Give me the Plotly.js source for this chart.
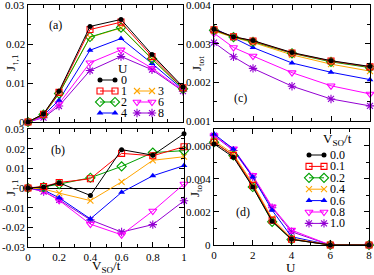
<!DOCTYPE html>
<html>
<head>
<meta charset="utf-8">
<script src="https://cdn.plot.ly/plotly-3.0.1.min.js"></script>
<style>html,body{margin:0;padding:0;background:#fff;}#plot{width:374px;height:275px;}</style>
</head>
<body>
<div id="plot"></div>
<script>
// ---------- data ----------
var vso = [0, 0.1, 0.2, 0.4, 0.6, 0.8, 1.0];
var uLabels = ['0', '1', '2', '3', '4', '6', '8'];

// panel (a): J_{up,1} vs V_SO/t, one series per U
var jA_U0 = [0, 0.0021, 0.0079, 0.0245, 0.0263, 0.0173, 0.0090];
var jA_U1 = [0, 0.0020, 0.0076, 0.0237, 0.0256, 0.0168, 0.0088];
var jA_U2 = [0, 0.0019, 0.0073, 0.0218, 0.0242, 0.0162, 0.0085];
var jA_U3 = [0, 0.0019, 0.0073, 0.0217, 0.0241, 0.0161, 0.0085];
var jA_U4 = [0, 0.0017, 0.0056, 0.0184, 0.0214, 0.0150, 0.0083];
var jA_U6 = [0, 0.0013, 0.0047, 0.0152, 0.0185, 0.0138, 0.0081];
var jA_U8 = [0, 0.0011, 0.0041, 0.0132, 0.0168, 0.0134, 0.0079];

// panel (b)
var jB_U0 = [0, 0.0005, 0.0026, -0.0038, 0.0195, 0.0167, 0.0276];
var jB_U1 = [0, 0.0008, 0.0028, 0.0047, 0.0176, 0.0164, 0.0210];
var jB_U2 = [0, 0.0005, 0.0020, 0.0052, 0.0110, 0.0180, 0.0190];
var jB_U3 = [0, -0.0005, -0.0026, -0.0064, 0.0031, 0.0141, 0.0159];
var jB_U4 = [0, -0.0010, -0.0050, -0.0157, -0.0022, 0.0062, 0.0114];
var jB_U6 = [0, -0.0015, -0.0063, -0.0184, -0.0238, -0.0117, 0.0020];
var jB_U8 = [0, -0.0018, -0.0060, -0.0162, -0.0224, -0.0186, -0.0065];

// panel (c): J_tot vs U, one series per V_SO/t
var uC = [0, 1, 2, 4, 6, 8];
var vsoLabels = ['0.0', '0.1', '0.2', '0.4', '0.6', '0.8', '1.0'];
var jC_V00 = [0.00337, 0.00318, 0.00308, 0.00277, 0.00256, 0.00241];
var jC_V01 = [0.00336, 0.00318, 0.00307, 0.00276, 0.00255, 0.00240];
var jC_V02 = [0.00335, 0.00317, 0.00305, 0.00275, 0.00253, 0.00238];
var jC_V04 = [0.00333, 0.00316, 0.00303, 0.00271, 0.00247, 0.00229];
var jC_V06 = [0.00340, 0.00314, 0.00290, 0.00250, 0.00226, 0.00207];
var jC_V08 = [0.00327, 0.00290, 0.00268, 0.00225, 0.00191, 0.00170];
var jC_V10 = [0.00303, 0.00266, 0.00236, 0.00190, 0.00157, 0.00139];

// panel (d)
var uD = [0, 1, 2, 3, 4, 6, 8];
var jD_V00 = [0.0061, 0.0053, 0.0035, 0.00144, 0.00034, 0, 0];
var jD_V01 = [0.0062, 0.0054, 0.0036, 0.0015, 0.00035, 0, 0];
var jD_V02 = [0.0062, 0.0054, 0.0035, 0.0014, 0.00033, 0, 0];
var jD_V04 = [0.0063, 0.0055, 0.0037, 0.0016, 0.0004, 0, 0];
var jD_V06 = [0.0067, 0.0058, 0.0041, 0.0021, 0.0005, 0, 0];
var jD_V08 = [0.0066, 0.0058, 0.0042, 0.0023, 0.0009, 0, 0];
var jD_V10 = [0.0066, 0.0057, 0.0041, 0.00225, 0.0008, 0, 0];

// y tick labels
var yTicksA = [0, 0.01, 0.02, 0.03];
var yTickTextA = ['0', '0.01', '0.02', '0.03'];
var yTicksB = [-0.03, -0.02, -0.01, 0, 0.01, 0.02, 0.03];
var yTickTextB = ['-0.03', '-0.02', '-0.01', '0', '0.01', '0.02', '0.03'];
var yTicksC = [0.001, 0.002, 0.003, 0.004];
var yTickTextC = ['0.001', '0.002', '0.003', '0.004'];
var yTicksD = [0, 0.002, 0.004, 0.006];
var yTickTextD = ['0', '0.002', '0.004', '0.006'];

// ---------- styles ----------
var styles = [
  {color: '#000000', symbol: 'circle', size: 5},
  {color: '#ff0000', symbol: 'square-open', size: 6},
  {color: '#00a000', symbol: 'diamond-open', size: 7},
  {color: '#ffa500', symbol: 'x-thin-open', size: 6},
  {color: '#0000ff', symbol: 'triangle-up', size: 6},
  {color: '#ff00ff', symbol: 'triangle-down-open', size: 7},
  {color: '#9400d3', symbol: 'asterisk-open', size: 7}
];

var seriesA = [jA_U0, jA_U1, jA_U2, jA_U3, jA_U4, jA_U6, jA_U8];
var seriesB = [jB_U0, jB_U1, jB_U2, jB_U3, jB_U4, jB_U6, jB_U8];
var seriesC = [jC_V00, jC_V01, jC_V02, jC_V04, jC_V06, jC_V08, jC_V10];
var seriesD = [jD_V00, jD_V01, jD_V02, jD_V04, jD_V06, jD_V08, jD_V10];

function tr(x, y, i, xa, ya, name) {
  var s = styles[i];
  return {
    x: x, y: y, xaxis: xa, yaxis: ya, name: name,
    type: 'scatter', mode: 'lines+markers', showlegend: false,
    cliponaxis: false, hoverinfo: 'skip',
    line: {color: s.color, width: 1},
    marker: {symbol: s.symbol, size: s.size, color: s.color,
             line: {color: s.color, width: s.symbol.indexOf('open') >= 0 ? 1.1 : 0}}
  };
}

var traces = [];
for (var i = styles.length - 1; i >= 0; i--) {
  traces.push(tr(vso, seriesA[i], i, 'x', 'y', 'U=' + uLabels[i]));
  traces.push(tr(vso, seriesB[i], i, 'x2', 'y2', 'U=' + uLabels[i]));
  traces.push(tr(uC, seriesC[i], i, 'x3', 'y3', 'V=' + vsoLabels[i]));
  traces.push(tr(uD, seriesD[i], i, 'x4', 'y4', 'V=' + vsoLabels[i]));
}

var W = 374, H = 275;
function dx(a, b) { return [a / W, b / W]; }
function dy(top, bot) { return [1 - bot / H, 1 - top / H]; }

// ---------- axes ----------
var F = 'Liberation Serif, Times New Roman, serif';
function ax(domain, range, dtick, mdtick, showLabels, extra) {
  var a = {
    domain: domain, range: range, dtick: dtick, tick0: 0,
    showgrid: false, zeroline: false, showline: true, linecolor: '#000', linewidth: 1,
    mirror: 'ticks', ticks: 'inside', ticklen: 5, tickwidth: 1, tickcolor: '#000',
    showticklabels: showLabels, tickfont: {family: F, size: 11, color: '#000'},
    ticklabeloverflow: 'allow',
    minor: {dtick: mdtick, tick0: 0, ticks: 'inside', ticklen: 3, tickcolor: '#000', tickwidth: 1, showgrid: false},
    fixedrange: true
  };
  for (var k in extra) a[k] = extra[k];
  return a;
}
var yA = ax(dy(5, 122), [0, 0.03], 0.01, 0.005, false, {anchor: 'x'});
var yB = ax(dy(129, 247), [-0.03, 0.03], 0.01, 0.005, false,
            {anchor: 'x2', zeroline: true, zerolinecolor: '#000', zerolinewidth: 1});
var yC = ax(dy(5, 121), [0.001, 0.004], 0.001, 0.0005, false, {anchor: 'x3'});
var yD = ax(dy(129, 245), [0, 0.007], 0.002, 0.001, false, {anchor: 'x4'});

// ---------- hand-built legends and labels (paper frame) ----------
var annotations = [];
function note(xp, yp, s, size, xanchor, angle) {
  annotations.push({xref: 'paper', yref: 'paper', x: xp / W, y: 1 - yp / H, text: s, showarrow: false,
                    xanchor: xanchor || 'center', yanchor: 'middle', textangle: angle || 0,
                    borderpad: 0, font: {family: F, size: size, color: '#000'}});
}
function legendItem(i, x0, x1, y, label) {
  traces.push(tr([x0, x1], [y, y], i, 'x5', 'y5', label));
  note(x1 + 5, y, label, 12, 'left');
}
// U legend in (a): left column 0,1,2,4 ; right column 3,6,8
var leftCol = [0, 1, 2, 4];
var rightCol = [3, 5, 6];
leftCol.forEach(function (idx, r) { legendItem(idx, 100, 115, 80 + r * 11, uLabels[idx]); });
rightCol.forEach(function (idx, r) { legendItem(idx, 137, 152, 91 + r * 11, uLabels[idx]); });
note(123, 68, 'U', 13);
// V_SO/t legend in (d)
vsoLabels.forEach(function (lab, r) { legendItem(r, 309, 324, 155 + r * 11.4, lab); });
note(322, 140, 'V<sub>SO</sub>/t', 13, 'left');

// y tick labels: value -> pixel through each axis' domain and range
function yLabels(vals, texts, axis, xPix) {
  var top = H * (1 - axis.domain[1]), bot = H * (1 - axis.domain[0]);
  var r0 = axis.range[0], r1 = axis.range[1];
  vals.forEach(function (v, k) {
    var py = bot - (v - r0) / (r1 - r0) * (bot - top);
    note(xPix, py, texts[k], 11, 'right');
  });
}
yLabels(yTicksA, yTickTextA, yA, 26);
yLabels(yTicksB, yTickTextB, yB, 26);
yLabels(yTicksC, yTickTextC, yC, 212);
yLabels(yTicksD, yTickTextD, yD, 212);

// panel labels and axis titles
note(56, 25, '(a)', 12); note(58, 150, '(b)', 12); note(240, 98, '(c)', 12); note(243, 212, '(d)', 12);
note(11, 63, 'J<sub>↑,1</sub>', 13, 'center', -90);
note(11, 188, 'J<sub>↑,1</sub>', 13, 'center', -90);
note(198, 64, 'J<sub>tot</sub>', 13, 'center', -90);
note(195, 190, 'J<sub>tot</sub>', 13, 'center', -90);
note(107, 266, 'V<sub>SO</sub>/t', 13);
note(291, 267, 'U', 13);

var layout = {
  width: W, height: H, autosize: false,
  margin: {l: 0, r: 0, t: 0, b: 0, pad: 0},
  paper_bgcolor: '#fff', plot_bgcolor: 'rgba(0,0,0,0)',
  showlegend: false,
  font: {family: F, color: '#000'},
  xaxis: ax(dx(28, 183), [0, 1], 0.2, 0.1, false, {anchor: 'y'}),
  yaxis: yA,
  xaxis2: ax(dx(28, 184), [0, 1], 0.2, 0.1, true, {anchor: 'y2'}),
  yaxis2: yB,
  xaxis3: ax(dx(214, 370), [0, 8], 2, 1, false, {anchor: 'y3'}),
  yaxis3: yC,
  xaxis4: ax(dx(214, 369), [0, 8], 2, 1, true, {anchor: 'y4'}),
  yaxis4: yD,
  xaxis5: {domain: [0, 1], range: [0, W], visible: false, fixedrange: true, anchor: 'y5'},
  yaxis5: {domain: [0, 1], range: [H, 0], visible: false, fixedrange: true, anchor: 'x5'},
  annotations: annotations
};

Plotly.newPlot('plot', traces, layout, {staticPlot: true, displayModeBar: false});
</script>
</body>
</html>
